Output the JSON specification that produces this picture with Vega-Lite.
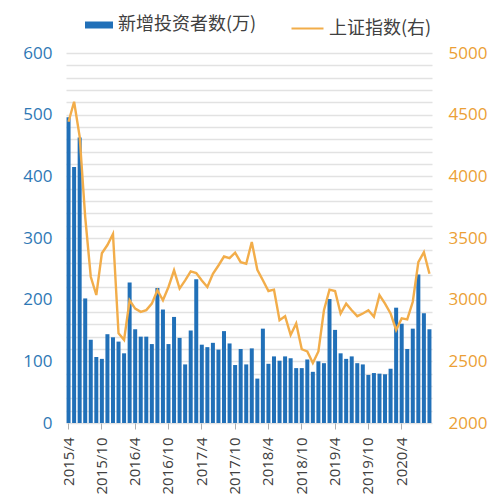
{
  "$schema": "https://vega.github.io/schema/vega-lite/v6.json",
  "width": 366,
  "height": 370,
  "autosize": {"type": "none"},
  "padding": {"left": 66, "top": 53, "right": 69, "bottom": 76},
  "background": "white",
  "config": {"view": {"stroke": null}, "font": "Open Sans"},
  "data": {
    "values": [
      {"m": "2015/4", "n": 496, "idx": 4443},
      {"m": "2015/5", "n": 415, "idx": 4605},
      {"m": "2015/6", "n": 463, "idx": 4322},
      {"m": "2015/7", "n": 202, "idx": 3670},
      {"m": "2015/8", "n": 135, "idx": 3186},
      {"m": "2015/9", "n": 107, "idx": 3038},
      {"m": "2015/10", "n": 104, "idx": 3376},
      {"m": "2015/11", "n": 144, "idx": 3443},
      {"m": "2015/12", "n": 139, "idx": 3532},
      {"m": "2016/1", "n": 132, "idx": 2727},
      {"m": "2016/2", "n": 113, "idx": 2674},
      {"m": "2016/3", "n": 228, "idx": 2995},
      {"m": "2016/4", "n": 152, "idx": 2928},
      {"m": "2016/5", "n": 140, "idx": 2901},
      {"m": "2016/6", "n": 140, "idx": 2915},
      {"m": "2016/7", "n": 128, "idx": 2968},
      {"m": "2016/8", "n": 219, "idx": 3077},
      {"m": "2016/9", "n": 184, "idx": 2995},
      {"m": "2016/10", "n": 128, "idx": 3103},
      {"m": "2016/11", "n": 172, "idx": 3238},
      {"m": "2016/12", "n": 138, "idx": 3090},
      {"m": "2017/1", "n": 95, "idx": 3157},
      {"m": "2017/2", "n": 150, "idx": 3230},
      {"m": "2017/3", "n": 233, "idx": 3216},
      {"m": "2017/4", "n": 127, "idx": 3155},
      {"m": "2017/5", "n": 123, "idx": 3103},
      {"m": "2017/6", "n": 130, "idx": 3210},
      {"m": "2017/7", "n": 119, "idx": 3277},
      {"m": "2017/8", "n": 149, "idx": 3350},
      {"m": "2017/9", "n": 129, "idx": 3337},
      {"m": "2017/10", "n": 94, "idx": 3381},
      {"m": "2017/11", "n": 120, "idx": 3304},
      {"m": "2017/12", "n": 95, "idx": 3291},
      {"m": "2018/1", "n": 121, "idx": 3467},
      {"m": "2018/2", "n": 72, "idx": 3242},
      {"m": "2018/3", "n": 153, "idx": 3157},
      {"m": "2018/4", "n": 96, "idx": 3070},
      {"m": "2018/5", "n": 108, "idx": 3081},
      {"m": "2018/6", "n": 101, "idx": 2834},
      {"m": "2018/7", "n": 108, "idx": 2866},
      {"m": "2018/8", "n": 105, "idx": 2714},
      {"m": "2018/9", "n": 89, "idx": 2807},
      {"m": "2018/10", "n": 89, "idx": 2598},
      {"m": "2018/11", "n": 103, "idx": 2580},
      {"m": "2018/12", "n": 83, "idx": 2487},
      {"m": "2019/1", "n": 100, "idx": 2580},
      {"m": "2019/2", "n": 97, "idx": 2914},
      {"m": "2019/3", "n": 201, "idx": 3081},
      {"m": "2019/4", "n": 151, "idx": 3070},
      {"m": "2019/5", "n": 113, "idx": 2888},
      {"m": "2019/6", "n": 104, "idx": 2968},
      {"m": "2019/7", "n": 108, "idx": 2914},
      {"m": "2019/8", "n": 97, "idx": 2866},
      {"m": "2019/9", "n": 95, "idx": 2888},
      {"m": "2019/10", "n": 78, "idx": 2914},
      {"m": "2019/11", "n": 81, "idx": 2861},
      {"m": "2019/12", "n": 80, "idx": 3037},
      {"m": "2020/1", "n": 79, "idx": 2968},
      {"m": "2020/2", "n": 88, "idx": 2888},
      {"m": "2020/3", "n": 187, "idx": 2754},
      {"m": "2020/4", "n": 161, "idx": 2848},
      {"m": "2020/5", "n": 120, "idx": 2840},
      {"m": "2020/6", "n": 153, "idx": 2983},
      {"m": "2020/7", "n": 241, "idx": 3304},
      {"m": "2020/8", "n": 178, "idx": 3385},
      {"m": "2020/9", "n": 152, "idx": 3210}
    ]
  },
  "encoding": {
    "x": {
      "field": "m",
      "type": "ordinal",
      "sort": null,
      "title": null,
      "scale": {"paddingInner": 0.28, "paddingOuter": 0.1},
      "axis": {
        "values": ["2015/4", "2015/10", "2016/4", "2016/10", "2017/4", "2017/10", "2018/4", "2018/10", "2019/4", "2019/10", "2020/4"],
        "labelAngle": -90,
        "labelFontSize": 15,
        "labelColor": "#404040",
        "labelFont": "Open Sans",
        "labelPadding": 8,
        "tickSize": 6,
        "tickColor": "#b0b0b0",
        "domain": false,
        "grid": false
      }
    }
  },
  "layer": [
    {
      "mark": {"type": "bar"},
      "encoding": {
        "y": {
          "field": "n",
          "type": "quantitative",
          "title": null,
          "scale": {"domain": [0, 600], "nice": false},
          "axis": {
            "orient": "left",
            "values": [0, 20, 40, 60, 80, 100, 120, 140, 160, 180, 200, 220, 240, 260, 280, 300, 320, 340, 360, 380, 400, 420, 440, 460, 480, 500, 520, 540, 560, 580, 600],
            "labelExpr": "datum.value % 100 == 0 ? datum.label : ''",
            "labelFontSize": 17,
            "labelColor": "#2e78b5",
            "labelFont": "Open Sans",
            "labelPadding": 14,
            "ticks": false,
            "domain": false,
            "grid": true,
            "gridColor": "#e2e2e2",
            "gridWidth": 1.3
          }
        },
        "color": {
          "datum": "新增投资者数(万)",
          "scale": {"range": ["#2170b8"]},
          "legend": {
            "orient": "none",
            "legendX": 19,
            "legendY": -42,
            "title": null,
            "padding": 0,
            "symbolType": "M-1,-0.25H1V0.25H-1Z",
            "symbolSize": 784,
            "symbolStrokeWidth": 0,
            "labelFontSize": 18,
            "labelFont": "Noto Sans CJK SC",
            "labelColor": "#404040",
            "labelOffset": 5
          }
        }
      }
    },
    {
      "mark": {"type": "line", "strokeWidth": 2.4},
      "encoding": {
        "y": {
          "field": "idx",
          "type": "quantitative",
          "title": null,
          "scale": {"domain": [2000, 5000], "nice": false, "zero": false},
          "axis": {
            "orient": "right",
            "values": [2000, 2500, 3000, 3500, 4000, 4500, 5000],
            "format": "d",
            "labelFontSize": 17,
            "labelColor": "#eb9f36",
            "labelFont": "Open Sans",
            "labelPadding": 16,
            "ticks": false,
            "domain": false,
            "grid": false
          }
        },
        "stroke": {
          "datum": "上证指数(右)",
          "scale": {"range": ["#f2ad4a"]},
          "legend": {
            "orient": "none",
            "legendX": 224,
            "legendY": -42,
            "title": null,
            "padding": 0,
            "symbolType": "stroke",
            "symbolSize": 1024,
            "symbolStrokeWidth": 2.2,
            "labelFontSize": 18,
            "labelFont": "Noto Sans CJK SC",
            "labelColor": "#404040",
            "labelOffset": 4
          }
        }
      }
    }
  ],
  "resolve": {"scale": {"y": "independent"}}
}
